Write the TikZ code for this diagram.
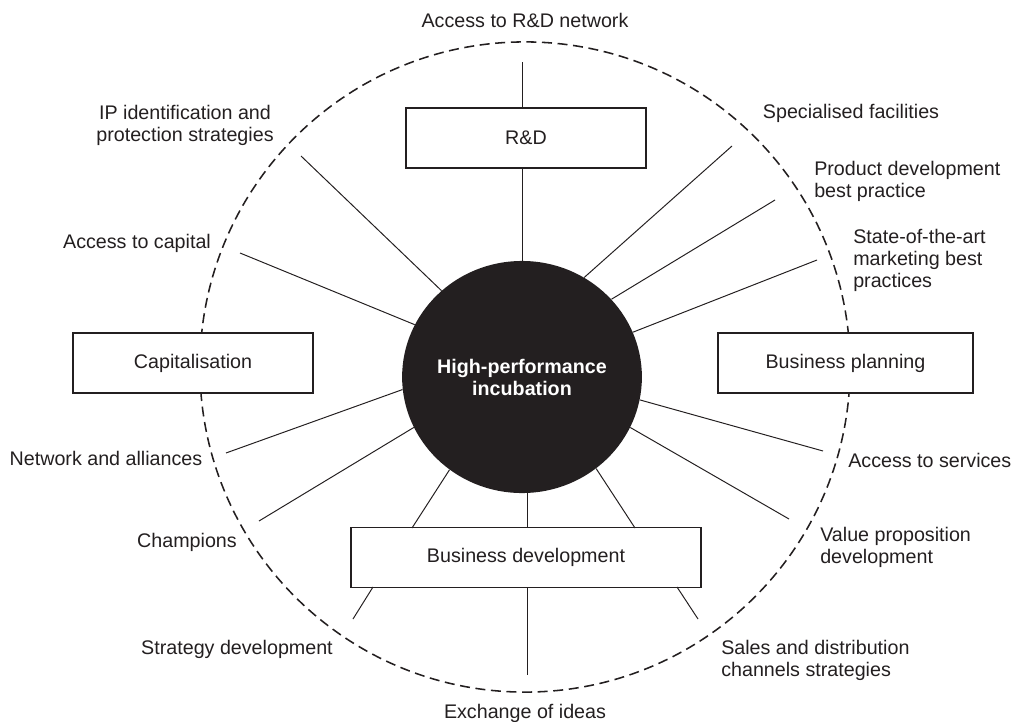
\documentclass[tikz,border=0pt]{standalone}
\usepackage{fontspec}
\setmainfont{Liberation Sans}
\usetikzlibrary{shapes.geometric, positioning}
\definecolor{ink}{HTML}{231F20}

\begin{document}
\begin{tikzpicture}[x=0.025cm,y=-0.025cm,
  box/.style={rectangle,draw=ink,fill=white,line width=0.8pt,minimum height=1.5cm,inner sep=0pt,align=center,text=ink,font=\fontsize{14}{15.6}\selectfont},
  hub/.style={ellipse,fill=ink,minimum width=5.5cm,minimum height=5.8cm,inner sep=0pt,align=center,text=white,font=\fontsize{14}{15.6}\selectfont\bfseries},
  lbl/.style={inner sep=0pt,text=ink,font=\fontsize{14}{15.6}\selectfont},
  spoke/.style={draw=ink,line width=0.7pt},
  ring/.style={draw=ink,line width=1.1pt,dash pattern=on 2.5mm off 1.4mm}
]
  \useasboundingbox (0,0) rectangle (1024,722);
  \draw[ring] (525,367) circle[radius=8.125cm];

  \node[hub] (core) at (522,377) {High-performance\\incubation};
  \node[box,minimum width=6cm]     (rd)   at (526,138)   {R\&D};
  \node[box,minimum width=6cm]     (cap)  at (193,363)   {Capitalisation};
  \node[box,minimum width=6.375cm] (plan) at (845.5,363) {Business planning};
  \node[box,minimum width=8.75cm]  (bdev) at (526,557.5) {Business development};

  \coordinate (rdEnd)    at (522,62);
  \coordinate (ipEnd)    at (301,156);
  \coordinate (capEnd)   at (240,253);
  \coordinate (netEnd)   at (226,453);
  \coordinate (champEnd) at (259,521);
  \coordinate (facEnd)   at (732,146);
  \coordinate (prodEnd)  at (775,200);
  \coordinate (mktEnd)   at (817,260);
  \coordinate (servEnd)  at (823,451);
  \coordinate (valEnd)   at (789,519);
  \coordinate (bdL)      at (412,528);
  \coordinate (bdR)      at (635,528);
  \coordinate (stratTop) at (373,587);
  \coordinate (stratEnd) at (353,619);
  \coordinate (salesTop) at (677,587);
  \coordinate (salesEnd) at (698,619);
  \coordinate (ideasEnd) at (527,675);

  \draw[spoke] (rd.north -| rdEnd) -- (rdEnd);
  \draw[spoke] (core.north) -- (rd.south -| core.north);
  \draw[spoke] (core.133) -- (ipEnd);
  \draw[spoke] (core.154) -- (capEnd);
  \draw[spoke] (core.186) -- (netEnd);
  \draw[spoke] (core.205) -- (champEnd);
  \draw[spoke] (core.58)  -- (facEnd);
  \draw[spoke] (core.41)  -- (prodEnd);
  \draw[spoke] (core.22)  -- (mktEnd);
  \draw[spoke] (core.349) -- (servEnd);
  \draw[spoke] (core.335) -- (valEnd);
  \draw[spoke] (core.232) -- (bdL);
  \draw[spoke] (core.309) -- (bdR);
  \draw[spoke] (core.south -| ideasEnd) -- (bdev.north -| ideasEnd);
  \draw[spoke] (bdev.south -| ideasEnd) -- (ideasEnd);
  \draw[spoke] (stratTop) -- (stratEnd);
  \draw[spoke] (salesTop) -- (salesEnd);

  \node[lbl] (rdNet)   at (525,20)  {Access to R\&D network};
  \node[lbl,align=center] (ipLbl) at (185,125) {IP identification and\\protection strategies};
  \node[lbl] (capLbl)  at (137,243) {Access to capital};
  \node[lbl] (netLbl)  at (106,458) {Network and alliances};
  \node[lbl] (chLbl)   at (187,542) {Champions};
  \node[lbl] (stLbl)   at (237,649) {Strategy development};
  \node[lbl] (exLbl)   at (525,713) {Exchange of ideas};
  \node[lbl] (facLbl)  at (851,113) {Specialised facilities};
  \node[lbl,anchor=west,align=left] (prodLbl)  at (814,181)   {Product development\\best practice};
  \node[lbl,anchor=west,align=left] (mktLbl)   at (853,260)   {State-of-the-art\\marketing best\\practices};
  \node[lbl,anchor=west] (servLbl) at (848,460) {Access to services};
  \node[lbl,anchor=west,align=left] (valLbl)   at (820,547.5) {Value proposition\\development};
  \node[lbl,anchor=west,align=left] (salesLbl) at (721,660)   {Sales and distribution\\channels strategies};
\end{tikzpicture}
\end{document}
